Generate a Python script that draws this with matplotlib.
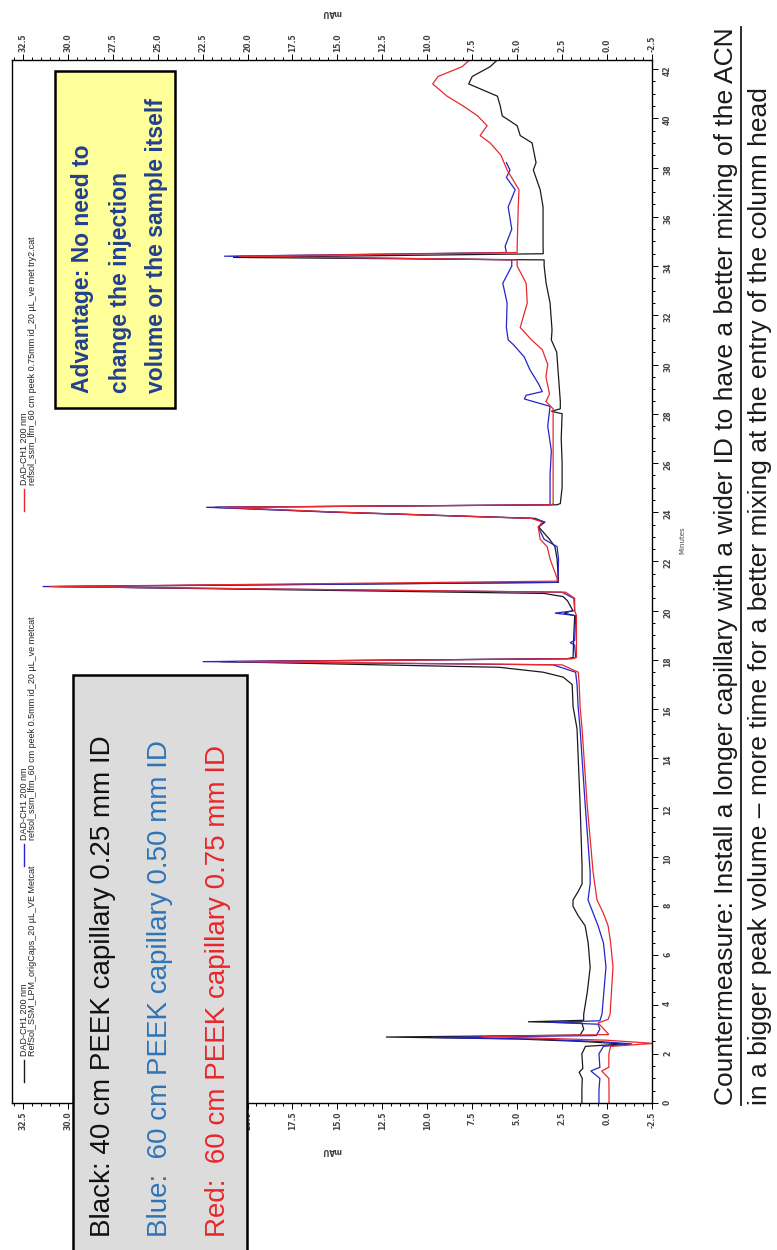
import numpy as np
import matplotlib
matplotlib.use("Agg")
import matplotlib.pyplot as plt
from matplotlib.patches import Rectangle
from matplotlib.lines import Line2D
from matplotlib.ticker import MultipleLocator, FormatStrFormatter

# Page size in pixels (figure drawn at 100 dpi)
W, H = 777, 1250

# DAD-CH1 200 nm traces: retention time (min) and absorbance (mAU)
black_min = [0.0, 0.5, 1.0, 1.25, 1.4, 2.0, 2.3, 2.4, 2.5, 2.6, 2.68, 2.76, 3.0, 3.25, 3.3,
             3.36, 3.6, 4.5, 5.5, 6.5, 7.2, 7.6, 8.0, 8.25, 8.6, 8.9, 9.6, 12.15, 15.2, 16.1,
             17.0, 17.3, 17.5, 17.7, 17.93, 18.05, 18.1, 19.0, 19.8, 19.9, 20.0, 20.4, 20.57,
             20.7, 20.98, 21.15, 21.4, 22.1, 22.6, 22.9, 23.4, 23.6, 23.75, 24.0, 24.2, 24.3,
             24.35, 25.0, 26.0, 27.0, 28.0, 28.1, 28.2, 28.5, 29.5, 30.5, 31.0, 31.4, 32.5,
             33.3, 34.0, 34.25, 34.35, 34.5, 34.8, 36.4, 37.1, 37.9, 38.2, 39.0, 39.3, 39.7,
             40.1, 40.5, 40.9, 41.4, 41.7, 42.1, 42.4]
black_mau = [1.40, 1.40, 1.38, 1.55, 1.35, 1.40, 1.20, -0.9, 1.4, 5.0, 12.3, 1.5, 1.3, 1.4, 4.4,
             1.3, 1.3, 1.1, 0.94, 1.05, 1.22, 1.6, 1.9, 1.89, 1.6, 1.39, 1.39, 1.5, 1.67, 1.89,
             1.94, 2.44, 3.55, 6.0, 21.5, 2.2, 1.89, 1.85, 1.8, 2.4, 1.9, 2.2, 2.44,
             3.5, 30.5, 2.7, 2.72, 2.78, 2.9, 3.2, 3.8, 3.5, 4.0, 15.0, 21.8, 2.8,
             2.6, 2.5, 2.5, 2.55, 2.5, 3.1, 2.6, 2.6, 2.7, 2.8, 3.1, 3.06, 3.17,
             3.39, 3.5, 3.5, 20.8, 3.55, 3.56, 3.56, 3.72, 4.1, 3.95, 4.17, 4.83, 5.0,
             5.83, 5.94, 6.1, 7.7, 7.5, 6.5, 6.06]

blue_min = [0.0, 0.5, 1.0, 1.3, 1.45, 2.0, 2.3, 2.4, 2.5, 2.6, 2.66, 2.74, 3.0, 3.2, 3.28,
            3.34, 3.62, 5.53, 6.5, 7.2, 8.25, 8.9, 9.4, 12.15, 15.2, 16.1, 17.0, 17.5, 17.8,
            17.93, 18.05, 18.1, 18.6, 18.7, 18.8, 19.8, 19.9, 20.0, 20.5, 20.75, 20.98, 21.15,
            21.4, 22.1, 22.6, 22.9, 23.4, 23.6, 23.75, 24.0, 24.2, 24.3, 24.35, 25.5, 26.5,
            27.5, 28.3, 28.6, 28.75, 28.9, 29.2, 29.8, 30.3, 30.8, 31.0, 31.5, 32.5, 33.3,
            34.0, 34.25, 34.4, 34.55, 34.8, 35.5, 36.4, 37.1, 37.6, 37.9, 38.2]
blue_mau = [0.45, 0.45, 0.40, 0.9, 0.40, 0.45, 0.2, -1.4, 0.5, 4.0, 9.7, 0.6, 0.4, 0.5, 3.2,
            0.4, 0.28, 0.06, 0.2, 0.5, 1.06, 0.94, 0.94, 1.22, 1.5, 1.61, 1.67, 1.75, 3.0,
            22.5, 2.0, 1.75, 1.8, 2.05, 1.8, 1.75, 2.9, 1.8, 1.85, 2.5, 31.4, 2.8,
            2.72, 2.7, 2.78, 3.5, 3.83, 3.44, 4.2, 15.3, 22.3, 3.2, 3.17, 3.17, 3.1,
            3.3, 3.17, 4.6, 4.5, 3.6, 3.8, 4.3, 4.6, 5.2, 5.5, 5.6, 5.56, 5.8,
            5.3, 5.3, 21.3, 5.6, 5.67, 5.3, 5.5, 5.11, 5.6, 5.4, 5.6]

red_min = [0.0, 0.5, 1.0, 1.3, 1.45, 2.0, 2.3, 2.42, 2.55, 2.63, 2.7, 2.78, 3.1, 3.25, 3.4,
           3.62, 5.53, 6.5, 7.2, 7.7, 8.25, 9.4, 12.15, 15.2, 16.1, 17.0, 17.5, 17.8, 17.93,
           18.05, 18.1, 19.8, 20.0, 20.5, 20.75, 20.98, 21.2, 22.1, 22.6, 22.9, 23.4, 23.6,
           23.75, 24.0, 24.2, 24.3, 24.35, 25.5, 27.0, 28.2, 28.5, 28.8, 29.5, 30.0, 30.6,
           31.0, 31.5, 32.5, 33.3, 34.0, 34.25, 34.4, 34.55, 34.8, 36.4, 37.1, 37.9, 38.5,
           39.0, 39.3, 39.7, 40.1, 40.5, 40.9, 41.4, 41.7, 42.1, 42.4]
red_mau = [-0.11, -0.11, -0.1, 0.3, -0.1, -0.1, -0.2, -2.6, 0.0, 3.5, 7.0, -0.1, 0.3, 0.5, -0.06,
           -0.17, -0.33, -0.2, -0.06, 0.2, 0.56, 0.78, 1.11, 1.39, 1.5, 1.55, 1.6, 2.5, 20.6,
           1.9, 1.7, 1.7, 1.8, 1.8, 2.3, 31.0, 2.72, 3.17, 3.33, 3.72, 3.83, 3.6,
           4.2, 14.8, 21.5, 3.1, 3.0, 3.0, 3.0, 3.0, 3.4, 3.2, 3.4, 3.3, 3.6,
           4.2, 4.83, 4.44, 4.5, 5.0, 5.0, 20.5, 5.0, 5.0, 4.94, 4.9, 5.56, 5.9,
           6.5, 7.06, 6.67, 7.2, 8.0, 8.9, 9.7, 9.4, 8.06, 7.6]

legend_files = ["RefSol_SSM_LPM_origCaps_20 µL_VE Metcat",
                "refsol_ssm_lfm_60 cm peek 0.5mm id_20 µL_ve metcat",
                "refsol_ssm_lfm_60 cm peek 0.75mm id_20 µL_ve met try2.cat"]
trace_colors = ["#1a1a1a", "#2424c8", "#e8282d"]

box_lines = ["Black: 40 cm PEEK capillary 0.25 mm ID",
             "Blue:  60 cm PEEK capillary 0.50 mm ID",
             "Red:  60 cm PEEK capillary 0.75 mm ID"]
box_colors = ["#111111", "#2e75b6", "#e8262b"]

advantage_lines = ["Advantage: No need to",
                   "change the injection",
                   "volume or the sample itself"]

note_lines = ["Countermeasure: Install a longer capillary with a wider ID to have a better mixing of the ACN",
              "in a bigger peak volume \u2013 more time for a better mixing at the entry of the column head"]


def fx(px):
    return px / W


def fy(py):
    return 1 - py / H


fig = plt.figure(figsize=(W / 100, H / 100), dpi=100)
fig.patch.set_facecolor("white")

# chromatogram, turned on its side: mAU runs right-to-left, minutes bottom-to-top
ax = fig.add_axes([fx(12), fy(1103), fx(652) - fx(12), fy(60) - fy(1103)])
for t, v, c in zip([black_min, blue_min, red_min], [black_mau, blue_mau, red_mau], trace_colors):
    ax.plot(v, t, color=c, lw=0.9, solid_joinstyle="miter")

ax.set_xlim(33.1, -2.5)
ax.set_ylim(0, 42.37)
ax.xaxis.set_major_locator(MultipleLocator(2.5))
ax.xaxis.set_minor_locator(MultipleLocator(0.5))
ax.xaxis.set_major_formatter(FormatStrFormatter("%.1f"))
ax.yaxis.set_major_locator(MultipleLocator(2))
ax.yaxis.set_minor_locator(MultipleLocator(0.5))
ax.yaxis.tick_right()

tick_font = dict(labelsize=5.5, labelcolor="#444444")
ax.tick_params(axis="x", which="both", top=True, bottom=True, labeltop=True, labelbottom=True,
               direction="out", width=0.7, labelrotation=90, pad=2, **tick_font)
ax.tick_params(axis="x", which="major", length=4)
ax.tick_params(axis="x", which="minor", length=2)
ax.tick_params(axis="y", which="both", left=False, right=True, labelleft=False, labelright=True,
               direction="out", width=0.7, labelrotation=90, pad=4, **tick_font)
ax.tick_params(axis="y", which="major", length=4)
ax.tick_params(axis="y", which="minor", length=2)
for lab in ax.get_xticklabels() + ax.get_yticklabels():
    lab.set_fontweight("bold")
for sp in ax.spines.values():
    sp.set_linewidth(1.0)

# bottom labels that sit behind the gray key box
fig.canvas.draw()
for tick in ax.xaxis.get_major_ticks():
    if 21.0 < tick.get_loc() < 29.0:
        tick.label1.set_visible(False)

fig.text(fx(332), fy(13), "mAU", rotation=180, ha="center", va="center", fontsize=5.5,
         fontweight="bold", color="#444444")
fig.text(fx(332), fy(1150), "mAU", rotation=180, ha="center", va="center", fontsize=5.5,
         fontweight="bold", color="#444444")
fig.text(fx(682), fy(540), "Minutes", rotation=90, ha="center", va="center", fontsize=5,
         color="#444444")

# trace legend along the left edge
legend_marks = [1071, 855, 500]
for name, c, ym in zip(legend_files, trace_colors, legend_marks):
    fig.add_artist(Line2D([fx(24), fx(24)], [fy(ym + 11), fy(ym - 11)], color=c, lw=1.0))
    fig.text(fx(28.5), fy(ym - 15), "DAD-CH1 200 nm\n" + name, rotation=90, rotation_mode="anchor",
             ha="left", va="center", fontsize=6.5, color="#222222", linespacing=0.95,
             family="Liberation Sans")

# yellow callout
fig.add_artist(Rectangle((fx(55), fy(408)), fx(175) - fx(55), fy(71) - fy(408),
                         transform=fig.transFigure, facecolor="#ffff99", edgecolor="black", lw=1.8))
for xc, s in zip([82, 120, 157], advantage_lines):
    fig.text(fx(xc), fy(393), s, rotation=90, rotation_mode="anchor", ha="left", va="center",
             fontsize=16.5, fontweight="bold", color="#23408e", family="Liberation Sans")

# gray capillary key
fig.add_artist(Rectangle((fx(73), fy(1260)), fx(247) - fx(73), fy(675) - fy(1260),
                         transform=fig.transFigure, facecolor="#dcdcdc", edgecolor="black", lw=1.8))
for xc, s, c in zip([103, 160, 218], box_lines, box_colors):
    fig.text(fx(xc), fy(1237), s, rotation=90, rotation_mode="anchor", ha="left", va="center",
             fontsize=20, color=c, family="Liberation Sans")

# countermeasure note, first line underlined
notes = []
for xc, s in zip([726, 760], note_lines):
    notes.append(fig.text(fx(xc), fy(1105), s, rotation=90, rotation_mode="anchor", ha="left",
                          va="center", fontsize=19, color="#1a1a1a", family="Liberation Sans"))
fig.canvas.draw()
bb = notes[0].get_window_extent()
fig.add_artist(Line2D([fx(741), fx(741)], [bb.y0 / H, bb.y1 / H], color="#1a1a1a", lw=1.3))

fig.savefig("out.png", dpi=100)
